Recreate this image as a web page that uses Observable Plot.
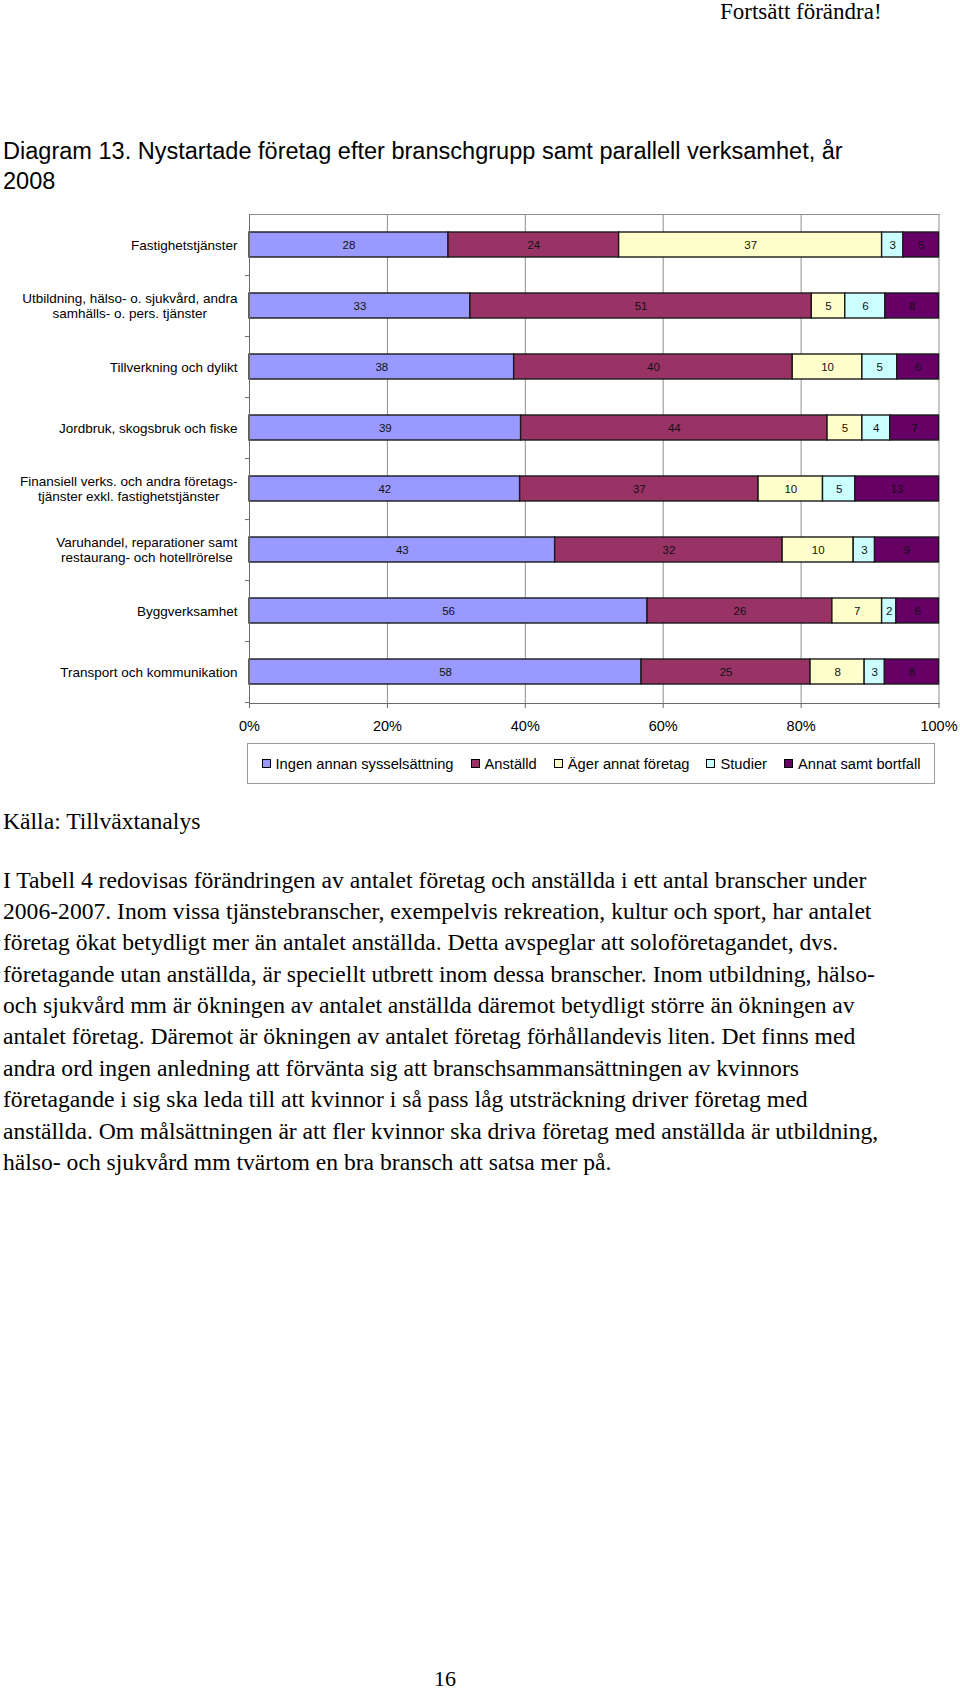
<!DOCTYPE html>
<html>
<head>
<meta charset="utf-8">
<script src="https://cdn.jsdelivr.net/npm/d3@7"></script>
<script src="https://cdn.jsdelivr.net/npm/@observablehq/plot@0.6"></script>
<style>
html, body { margin: 0; padding: 0; background: #fff; }
body { position: relative; width: 960px; height: 1689px; overflow: hidden; }
.t { position: absolute; white-space: nowrap; color: #000; line-height: 1; }
#chart { position: absolute; left: 0; top: 200px; }
#legend { position: absolute; left: 247px; top: 743px; width: 688px; height: 41px; box-sizing: border-box;
  border: 1px solid #9a9a9a; display: flex; align-items: center; justify-content: center; gap: 17px;
  font-family: "Liberation Sans", Arial, sans-serif; font-size: 14.7px; color: #000; }
#legend .item { display: flex; align-items: center; gap: 5px; white-space: nowrap; }
#legend .sw { width: 9px; height: 9px; box-sizing: border-box; border: 1px solid #000; display: inline-block; }
</style>
</head>
<body>
<div id="chart"></div>
<div id="legend"></div>
<script>
// ---- Data ----
const categories = [
  "Fastighetstjänster",
  "Utbildning, hälso- o. sjukvård, andra\nsamhälls- o. pers. tjänster",
  "Tillverkning och dylikt",
  "Jordbruk, skogsbruk och fiske",
  "Finansiell verks. och andra företags-\ntjänster exkl. fastighetstjänster",
  "Varuhandel, reparationer samt\nrestaurang- och hotellrörelse",
  "Byggverksamhet",
  "Transport och kommunikation"
];
const seriesNames = ["Ingen annan sysselsättning", "Anställd", "Äger annat företag", "Studier", "Annat samt bortfall"];
const seriesColors = ["#9999FF", "#993366", "#FFFFCC", "#CCFFFF", "#660066"];
const ingenAnnan = [28, 33, 38, 39, 42, 43, 56, 58];
const anstalld   = [24, 51, 40, 44, 37, 32, 26, 25];
const agerAnnat  = [37, 5, 10, 5, 10, 10, 7, 8];
const studier    = [3, 6, 5, 4, 5, 3, 2, 3];
const annat      = [5, 8, 6, 7, 13, 9, 6, 8];
const xTicks = [0, 0.2, 0.4, 0.6, 0.8, 1];

const headerText = "Fortsätt förändra!";
const titleLines = ["Diagram 13. Nystartade företag efter branschgrupp samt parallell verksamhet, år", "2008"];
const sourceText = "Källa: Tillväxtanalys";
const bodyLines = [
  "I Tabell 4 redovisas förändringen av antalet företag och anställda i ett antal branscher under",
  "2006-2007. Inom vissa tjänstebranscher, exempelvis rekreation, kultur och sport, har antalet",
  "företag ökat betydligt mer än antalet anställda. Detta avspeglar att soloföretagandet, dvs.",
  "företagande utan anställda, är speciellt utbrett inom dessa branscher. Inom utbildning, hälso-",
  "och sjukvård mm är ökningen av antalet anställda däremot betydligt större än ökningen av",
  "antalet företag. Däremot är ökningen av antalet företag förhållandevis liten. Det finns med",
  "andra ord ingen anledning att förvänta sig att branschsammansättningen av kvinnors",
  "företagande i sig ska leda till att kvinnor i så pass låg utsträckning driver företag med",
  "anställda. Om målsättningen är att fler kvinnor ska driva företag med anställda är utbildning,",
  "hälso- och sjukvård mm tvärtom en bra bransch att satsa mer på."
];
const pageNumber = "16";

// ---- helpers ----
const SANS = '"Liberation Sans", Arial, sans-serif';
const SERIF = '"Liberation Serif", "Times New Roman", serif';
const ctx = document.createElement("canvas").getContext("2d");
function measure(text, size, family) { ctx.font = `${size}px ${family}`; return ctx.measureText(text).width; }
function place(text, x, baseline, size, family, anchor = "start") {
  const d = document.createElement("div");
  d.className = "t";
  d.style.fontFamily = family;
  d.style.fontSize = size + "px";
  d.textContent = text;
  const k = family === SERIF ? 0.8375 : 0.8465;
  d.style.top = (baseline - k * size) + "px";
  if (anchor === "middle") { d.style.left = x + "px"; d.style.transform = "translateX(-50%)"; }
  else d.style.left = x + "px";
  document.body.appendChild(d);
}

// ---- page text ----
place(headerText, 720, 19, 23, SERIF);
const titleSize = 21 * 840 / measure(titleLines[0], 21, SANS);
titleLines.forEach((l, i) => place(l, 3, 159.5 + i * 30, titleSize, SANS));
const bodySize = 22 * 864 / measure(bodyLines[0], 22, SERIF);
place(sourceText, 3, 830, bodySize, SERIF);
bodyLines.forEach((l, i) => place(l, 3, 888.5 + i * 31.35, bodySize, SERIF));
place(pageNumber, 445, 1686, 22, SERIF, "middle");

// ---- chart ----
const seriesValues = [ingenAnnan, anstalld, agerAnnat, studier, annat];
const rows = [];
categories.forEach((c, i) => seriesNames.forEach((s, j) => rows.push({category: c, series: s, value: seriesValues[j][i]})));

const W = 960, H = 540, mL = 249, mR = 21.5, mT = 14, mB = 37;
const step = (H - mT - mB) / categories.length;
const catSize = 13.5, labelGap = 12;
const blockWidth = c => Math.max(...c.split("\n").map(l => measure(l, catSize, SANS)));

const chart = Plot.plot({
  width: W, height: H,
  marginLeft: mL, marginRight: mR, marginTop: mT, marginBottom: mB,
  style: {fontFamily: SANS, fontSize: "14.5px", color: "#000", background: "#fff", overflow: "visible"},
  x: {domain: [0, 1], ticks: xTicks, tickFormat: d3.format(".0%")},
  y: {domain: categories, paddingInner: 0.59, paddingOuter: 0.295},
  color: {domain: seriesNames, range: seriesColors},
  marks: [
    Plot.gridX({ticks: xTicks.slice(1), stroke: "#8f8f8f", strokeOpacity: 1}),
    Plot.frame({anchor: "top", stroke: "#8f8f8f"}),
    Plot.barX(rows, Plot.stackX({x: "value", y: "category", fill: "series", offset: "normalize", stroke: "#1a1a1a", strokeWidth: 1.4})),
    Plot.text(rows, Plot.stackX({x: "value", y: "category", text: "value", offset: "normalize", fill: "#111", fontSize: 11.5})),
    Plot.ruleX([0], {stroke: "#6a6a6a"}),
    Plot.frame({anchor: "bottom", stroke: "#6a6a6a"}),
    Plot.axisX({ticks: xTicks, tickFormat: d3.format(".0%"), tickSize: 5, tickPadding: 12, stroke: "#6a6a6a", fontSize: 14.5, label: null}),
    Plot.axisY({ticks: categories, tickSize: 4, tickFormat: () => "", dy: step / 2, stroke: "#6a6a6a", label: null}),
    ...categories.map(c => Plot.text([c], {
      y: d => d, text: d => d, frameAnchor: "left", textAnchor: "middle",
      lineHeight: 1.12, fontSize: catSize, fill: "#000",
      dx: -(labelGap + blockWidth(c) / 2)
    }))
  ]
});
document.getElementById("chart").appendChild(chart);

// ---- legend ----
const legend = document.getElementById("legend");
seriesNames.forEach((s, i) => {
  const item = document.createElement("span");
  item.className = "item";
  const sw = document.createElement("span");
  sw.className = "sw";
  sw.style.background = seriesColors[i];
  const lab = document.createElement("span");
  lab.textContent = s;
  item.appendChild(sw); item.appendChild(lab);
  legend.appendChild(item);
});
</script>
</body>
</html>
